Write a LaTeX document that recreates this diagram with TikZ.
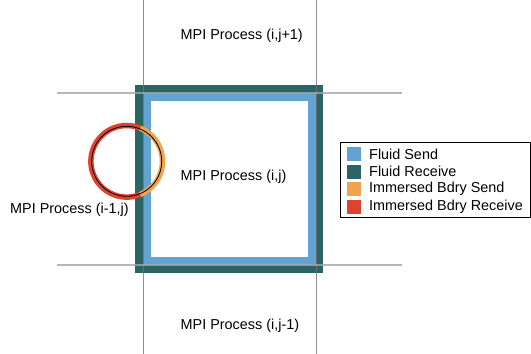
\documentclass[tikz,border=0pt]{standalone}
\usepackage{fontspec}
\setmainfont{Liberation Sans}
\definecolor{fsend}{HTML}{62A3D3}
\definecolor{frecv}{HTML}{2B6464}
\definecolor{ibsend}{HTML}{EFA24F}
\definecolor{ibrecv}{HTML}{DD4430}
\begin{document}
\begin{tikzpicture}[x=1pt,y=-1pt,
  lbl/.style={anchor=west,inner sep=0pt,font=\fontsize{14.4}{17}\selectfont},
  swatch/.style={minimum size=14pt,inner sep=0pt},
  vline/.style={draw=black!55,line width=0.7pt},
  hline/.style={draw=black!35,line width=1.2pt}]
\useasboundingbox (0,0) rectangle (531,354);
\fill[white] (0,0) rectangle (531,354);
% square bands
\fill[frecv] (135,85) rectangle (323,273);
\fill[fsend] (143,93) rectangle (316,265);
\fill[white] (151,101) rectangle (308,257);
% grid lines
\draw[vline,opacity=0.8] (143,0) coordinate (v1a) -- (143,354) coordinate (v1b);
\draw[vline,opacity=0.8] (316,0) coordinate (v2a) -- (316,354) coordinate (v2b);
\draw[hline,opacity=0.8] (57,93) coordinate (h1a) -- (402,93) coordinate (h1b);
\draw[hline,opacity=0.8] (57,265) coordinate (h2a) -- (402,265) coordinate (h2b);
% immersed boundary ring
\coordinate (c) at (126.7,161.3);
\draw[ibrecv,line width=5.5pt] ([shift={(68:35.8)}]c) arc[start angle=68,end angle=292,radius=35.8];
\draw[ibsend,line width=5.5pt] ([shift={(-68:35.8)}]c) arc[start angle=-68,end angle=68,radius=35.8];
\draw[black,line width=0.8pt] (c) circle[radius=35];
% labels
\node[lbl] (top) at (180.5,35.5) {MPI Process (i,j+1)};
\node[lbl] (mid) at (180.5,176.5) {MPI Process (i,j)};
\node[lbl] (bot) at (180.5,325.5) {MPI Process (i,j-1)};
\node[lbl] (left) at (10,210) {MPI Process (i-1,j)};
% legend
\draw[black,line width=0.8pt] (340,142) rectangle (530,217);
\node[swatch,fill=fsend] (s1) at (354,154) {};
\node[swatch,fill=frecv] (s2) at (354,171.6) {};
\node[swatch,fill=ibsend] (s3) at (354,189.2) {};
\node[swatch,fill=ibrecv] (s4) at (354,206.8) {};
\node[lbl] (t1) at (369,154) {Fluid Send};
\node[lbl] (t2) at (369,171.6) {Fluid Receive};
\node[lbl] (t3) at (369,189.2) {Immersed Bdry Send};
\node[lbl] (t4) at (369,206.8) {Immersed Bdry Receive};
\end{tikzpicture}
\end{document}
